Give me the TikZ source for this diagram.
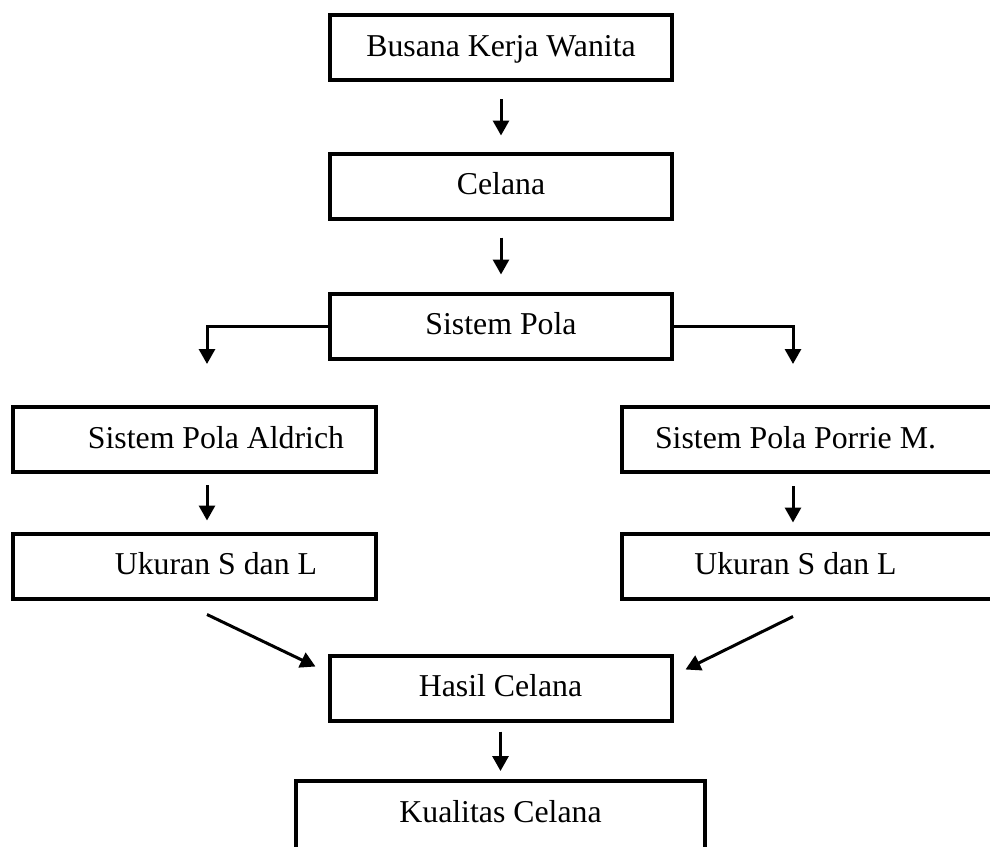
\documentclass[tikz,border=0pt]{standalone}
\usepackage{fontspec}
\setmainfont{Liberation Serif}
\usetikzlibrary{arrows.meta,calc,positioning}

\begin{document}
\begin{tikzpicture}
[
x=0.5pt, y=-0.5pt,
flowbox/.style={rectangle, draw=black, line width=2pt, inner sep=0pt, minimum height=32.5pt, text height=11pt, text depth=2.5pt, font=\fontsize{15.9}{19}\selectfont},
widebox/.style={flowbox, minimum width=171pt},
sidebox/.style={flowbox, minimum width=181.5pt},
flowarrow/.style={line width=1.5pt, -{Triangle[width=8pt,length=7.5pt]}},
]
\useasboundingbox (0,0) rectangle (990,846);
\clip (0,0) rectangle (990,846);
%draw the middle column
\node[widebox] (busana) at (501,47.5) {Busana Kerja Wanita};
\node[widebox] (celana) at (501,186) {Celana};
\node[widebox] (sistem) at (501,326) {Sistem Pola};
%draw the two sides
\node[sidebox] (aldrich) at (194.5,439.5) {\hspace*{21.5pt}Sistem Pola Aldrich};
\node[sidebox] (ukurankiri) at (194.5,566) {\hspace*{21.5pt}Ukuran S dan L};
\node[sidebox, minimum width=189pt] (porrie) at (811,439.5) {Sistem Pola Porrie M.\hspace*{15.5pt}};
\node[sidebox, minimum width=189pt] (ukurankanan) at (811,566) {Ukuran S dan L\hspace*{15.5pt}};
%draw the bottom
\node[widebox] (hasil) at (500.5,688) {Hasil Celana};
\node[flowbox, minimum width=204.5pt, text height=20.5pt, text depth=20pt, anchor=base] (kualitas) at (500.5,822) {Kualitas Celana};

\coordinate (kiri) at (207,0);
\coordinate (kanan) at (793,0);
%draw the arrows
\draw[flowarrow, shorten <=8.5pt, shorten >=8pt] (busana) -- (celana);
\draw[flowarrow, shorten <=8.5pt, shorten >=8.5pt] (celana) -- (sistem);
\draw[flowarrow, shorten >=20.5pt] (sistem.west) -| (aldrich.north -| kiri);
\draw[flowarrow, shorten >=20.5pt] (sistem.east) -| (porrie.north -| kanan);
\draw[flowarrow, shorten <=5.5pt, shorten >=5.5pt] (aldrich.south -| kiri) -- (ukurankiri.north -| kiri);
\draw[flowarrow, shorten <=6pt, shorten >=4.5pt] (porrie.south -| kanan) -- (ukurankanan.north -| kanan);
\draw[flowarrow] ($(ukurankiri.south -| kiri)+(0,14)$) -- ($(hasil.north west)+(-12,13)$);
\draw[flowarrow] ($(ukurankanan.south -| kanan)+(0,16)$) -- ($(hasil.north east)+(12,16)$);
\draw[flowarrow, shorten <=4.5pt, shorten >=4pt] (hasil) -- (kualitas);
\end{tikzpicture}
\end{document}
